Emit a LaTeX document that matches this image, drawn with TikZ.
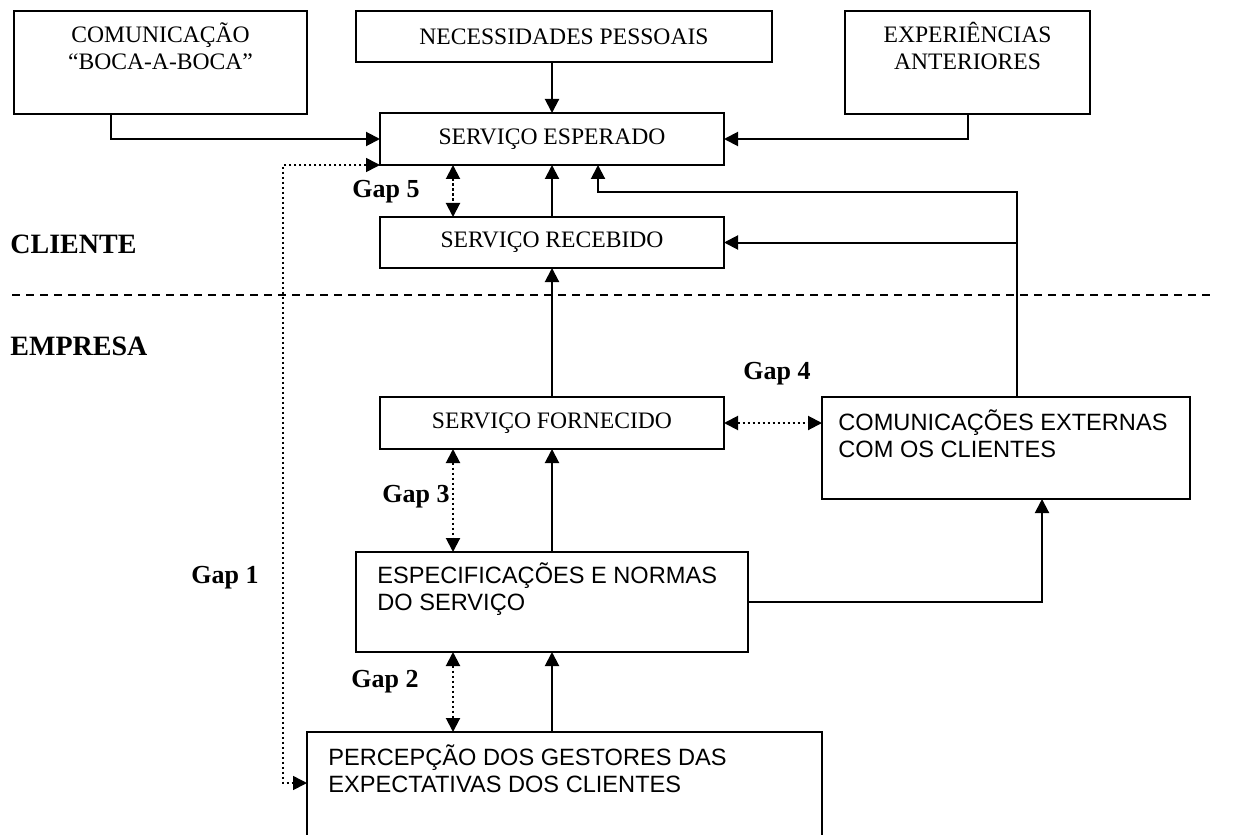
\documentclass[tikz,border=0pt]{standalone}
\usepackage{fontspec}
\setmainfont{Liberation Serif}
\newfontfamily\arialfont{Liberation Sans}
\usetikzlibrary{arrows.meta}

\tikzset{
  box/.style={draw, line width=1pt, inner sep=0pt, outer sep=0pt, anchor=north west,
              font=\fontsize{11.8pt}{13.5pt}\selectfont},
  boxtext/.style={inner sep=0pt, font=\fontsize{11.8pt}{13.5pt}\selectfont},
  sanstext/.style={inner sep=0pt, anchor=north west, align=left,
                   font=\arialfont\fontsize{11.8pt}{13.5pt}\selectfont},
  arr/.style={line width=1pt, -{Triangle[length=7pt,width=7pt]}},
  line/.style={line width=1pt},
  gaparr/.style={line width=1pt, dash pattern=on 1.1pt off 1.4pt,
                 {Triangle[length=7pt,width=7pt]}-{Triangle[length=7pt,width=7pt]}},
  gaplbl/.style={inner sep=0pt, font=\bfseries\fontsize{13pt}{15pt}\selectfont},
  zonelbl/.style={inner sep=0pt, anchor=base west, font=\bfseries\fontsize{14pt}{16pt}\selectfont}
}

\begin{document}
\begin{tikzpicture}[x=0.5pt, y=-0.5pt]
\useasboundingbox (0,0) rectangle (1240,834);
\fill[white] (0,0) rectangle (1240,834);
\clip (0,0) rectangle (1240,834);

% ---- boxes ----
\node[box, minimum width=146.5pt, minimum height=51.5pt] (A) at (14,11) {};
\node[box, minimum width=208pt, minimum height=25.5pt] (B) at (356,11) {NECESSIDADES PESSOAIS};
\node[box, minimum width=122.5pt, minimum height=51.5pt] (C) at (845,11) {};
\node[box, minimum width=172pt, minimum height=26pt] (SE) at (380,113) {SERVIÇO ESPERADO};
\node[box, minimum width=172pt, minimum height=25.5pt] (SR) at (380,217) {SERVIÇO RECEBIDO};
\node[box, minimum width=172pt, minimum height=26pt] (SF) at (380,397) {SERVIÇO FORNECIDO};
\node[box, minimum width=184pt, minimum height=51pt] (CE) at (822,397) {};
\node[box, minimum width=196pt, minimum height=50pt] (ES) at (356,552) {};
\node[box, minimum width=257.5pt, minimum height=84pt] (PG) at (307,732) {};

% ---- box texts ----
\node[boxtext, anchor=north, align=center] (tA) at (160.5,22) {COMUNICAÇÃO\\“BOCA-A-BOCA”};
\node[boxtext, anchor=north, align=center] (tC) at (967.5,22) {EXPERIÊNCIAS\\ANTERIORES};
\node[sanstext] (tCE) at (838,409) {COMUNICAÇÕES EXTERNAS\\COM OS CLIENTES};
\node[sanstext] (tES) at (377,562) {ESPECIFICAÇÕES E NORMAS\\DO SERVIÇO};
\node[sanstext] (tPG) at (328,744) {PERCEPÇÃO DOS GESTORES DAS\\EXPECTATIVAS DOS CLIENTES};

% ---- zone labels and separator ----
\node[zonelbl] (cli) at (10,253) {CLIENTE};
\node[zonelbl] (emp) at (10,355) {EMPRESA};
\coordinate (sepL) at (12,295);
\coordinate (sepR) at (1212,295);
\draw[line width=0.8pt, dash pattern=on 4pt off 3pt] (sepL) -- (sepR);

% ---- reference columns ----
\coordinate (colS) at (552,0);
\coordinate (colD) at (453,0);
\coordinate (colR) at (1017,0);
\coordinate (colE) at (1042,0);
\coordinate (bend) at (598,192);
\coordinate (g1low) at (283,783);

% ---- solid connectors ----
\draw[arr] ([xshift=48.5pt]A.south west) |- (SE.west);
\draw[arr] ([xshift=61.5pt]C.south west) |- (SE.east);
\draw[arr] (B.south -| colS) -- (SE.north -| colS);
\draw[arr] (SR.north -| colS) -- (SE.south -| colS);
\draw[arr] (SF.north -| colS) -- (SR.south -| colS);
\draw[arr] (ES.north -| colS) -- (SF.south -| colS);
\draw[arr] (PG.north -| colS) -- (ES.south -| colS);
\draw[arr] (CE.north -| colR) |- (bend) -- (bend |- SE.south);
\draw[arr] (SR.east -| colR) -- (SR.east);
\draw[arr] (ES.east) -| (CE.south -| colE);

% ---- gaps ----
\draw[gaparr] (SE.south -| colD) -- (SR.north -| colD);
\draw[gaparr] (SF.east) -- (SF.east -| CE.west);
\draw[gaparr] (SF.south -| colD) -- (ES.north -| colD);
\draw[gaparr] (ES.south -| colD) -- (PG.north -| colD);
\draw[gaparr, line width=0.8pt] (SE.south west) -| (g1low) -- (g1low -| PG.west);

\node[gaplbl] (gap5) at (386,192) {Gap 5};
\node[gaplbl] (gap4) at (777,374) {Gap 4};
\node[gaplbl] (gap3) at (416,497) {Gap 3};
\node[gaplbl] (gap2) at (385,682) {Gap 2};
\node[gaplbl] (gap1) at (225,578) {Gap 1};
\end{tikzpicture}
\end{document}
